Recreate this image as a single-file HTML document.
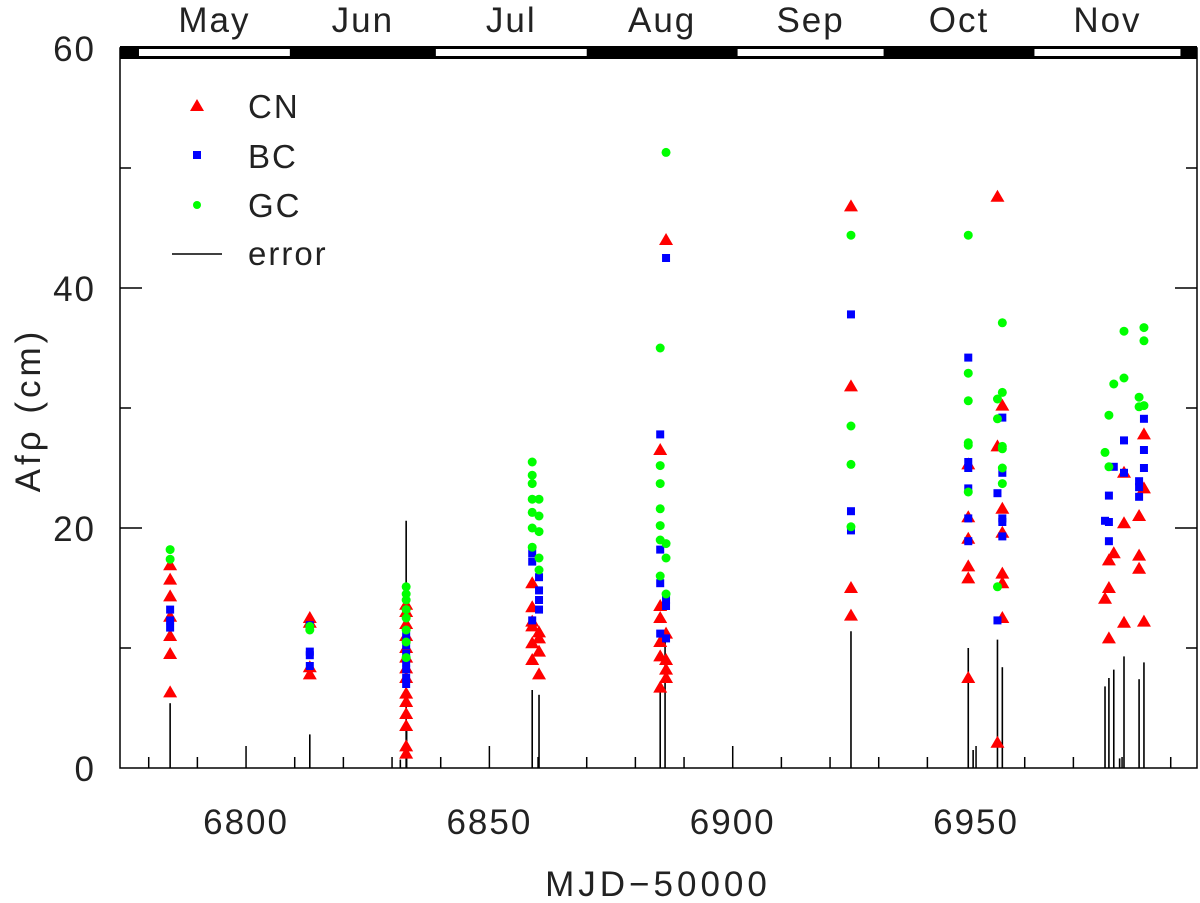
<!DOCTYPE html>
<html><head><meta charset="utf-8"><style>
html,body{margin:0;padding:0;background:#fff}
svg text{font-family:"Liberation Sans",sans-serif;font-weight:300;fill:#222}
</style></head><body>
<svg id="chart" width="1200" height="898" viewBox="0 0 1200 898" xmlns="http://www.w3.org/2000/svg">
<g id="monthbar"></g>
<g id="marks"></g>
<g id="axes"></g>
<g>
  <polygon points="197,99 204,111 190,111" fill="#f00"/>
  <text x="248" y="118" font-size="33" letter-spacing="2">CN</text>
  <rect x="193" y="151" width="8" height="8" fill="#00f"/>
  <text x="248" y="168" font-size="33" letter-spacing="2">BC</text>
  <circle cx="197" cy="205" r="4" fill="#0f0"/>
  <text x="248" y="217" font-size="33" letter-spacing="2">GC</text>
  <line x1="172" y1="254" x2="222" y2="254" stroke="#000" stroke-width="1.5"/>
  <text x="248" y="265" font-size="33" letter-spacing="2">error</text>
</g>
<text x="658" y="896" font-size="35" text-anchor="middle" letter-spacing="4">MJD−50000</text>
<text transform="translate(40,410) rotate(-90)" font-size="35" text-anchor="middle" letter-spacing="4">Afρ (cm)</text>
</svg>
<script>
const xMin = 6774.1, xMax = 6995.4, yMin = 0, yMax = 60;
const L = 120, R = 1197, T = 48, B = 768;
function X(v){return L + (v - xMin) / (xMax - xMin) * (R - L);}
function Y(v){return B - (v - yMin) / (yMax - yMin) * (B - T);}

const xTickLabels = [6800, 6850, 6900, 6950];
const yTickLabels = [0, 20, 40, 60];
const monthNames = ["May","Jun","Jul","Aug","Sep","Oct","Nov"];
const monthStarts = [6778, 6809, 6839, 6870, 6901, 6931, 6962, 6992];

// [mjd, value]
const cnData = [
[6784.4,6.3],[6784.4,9.5],[6784.4,11],[6784.4,12.6],[6784.4,14.3],[6784.4,15.7],[6784.4,16.9],
[6813.1,7.8],[6813.1,8.4],[6813.1,12.5],[6813.1,12.1],
[6832.9,1.2],[6832.9,1.8],[6832.9,3.5],[6832.9,4.5],[6832.9,5.5],[6832.9,6.2],[6832.9,7.5],[6832.9,8.3],[6832.9,9.2],[6832.9,10],[6832.9,11],[6832.9,12],[6832.9,13],[6832.9,13.6],
[6858.8,15.4],[6858.8,13.4],[6858.8,12.2],[6860.2,11.3],[6858.8,10.4],[6860.2,9.7],[6858.8,9],[6860.2,7.8],[6860.2,10.8],[6858.8,11.8],
[6886.3,44],[6885.1,26.5],[6885.1,13.5],[6885.1,12.5],[6886.3,11.2],[6885.1,10.5],[6885.1,9.3],[6886.3,9],[6886.3,8.2],[6886.3,7.5],[6885.1,6.7],
[6924.3,46.8],[6924.3,31.8],[6924.3,15],[6924.3,12.7],
[6948.4,25.3],[6948.4,20.9],[6948.4,19.1],[6948.4,16.8],[6948.4,15.8],[6948.4,7.5],
[6954.4,47.6],[6954.4,26.8],[6954.4,2.1],
[6955.4,30.2],[6955.4,21.6],[6955.4,19.6],[6955.4,16.2],[6955.4,15.4],[6955.4,12.5],
[6976.5,14.1],[6977.3,17.3],[6977.3,15.0],[6977.3,10.8],[6978.3,17.9],
[6980.4,24.6],[6980.4,20.4],[6980.4,12.1],
[6983.5,21.0],[6983.5,17.7],[6983.5,16.6],[6984.5,27.8],[6984.5,23.3],[6984.5,12.2]
];
const bcData = [
[6784.4,11.7],[6784.4,12.3],[6784.4,13.2],
[6813.1,8.5],[6813.1,9.4],[6813.1,9.7],[6813.1,11.9],
[6832.9,7.0],[6832.9,7.5],[6832.9,8.2],[6832.9,8.8],[6832.9,9.5],[6832.9,10.2],[6832.9,11],
[6858.8,17.9],[6858.8,17.2],[6860.2,15.9],[6860.2,14.8],[6860.2,14],[6860.2,13.2],[6858.8,12.3],
[6886.3,42.5],[6885.1,27.8],[6885.1,18.2],[6885.1,15.4],[6886.3,14],[6886.3,13.5],[6885.1,11.2],[6886.3,10.8],
[6924.3,37.8],[6924.3,21.4],[6924.3,19.8],
[6948.4,34.2],[6948.4,25.5],[6948.4,25.0],[6948.4,23.3],[6948.4,20.8],[6948.4,18.9],
[6954.4,22.9],[6954.4,12.3],
[6955.4,29.2],[6955.4,24.6],[6955.4,20.8],[6955.4,20.5],[6955.4,19.3],
[6976.5,20.6],[6977.3,22.7],[6977.3,20.5],[6977.3,18.9],[6978.3,25.1],
[6980.4,27.3],[6980.4,24.6],
[6983.5,23.9],[6983.5,23.4],[6983.5,22.6],[6984.5,29.1],[6984.5,26.5],[6984.5,25.0]
];
const gcData = [
[6784.4,17.4],[6784.4,18.2],
[6813.1,11.5],[6813.1,11.8],
[6832.9,9.2],[6832.9,10.5],[6832.9,11.5],[6832.9,12.5],[6832.9,13.2],[6832.9,14],[6832.9,14.5],[6832.9,15.1],
[6858.8,25.5],[6858.8,24.4],[6858.8,23.7],[6858.8,22.4],[6860.2,22.4],[6858.8,21.3],[6860.2,21],[6858.8,20],[6860.2,19.7],[6858.8,18.4],[6860.2,17.5],[6860.2,16.5],
[6886.3,51.3],[6885.1,35],[6885.1,25.2],[6885.1,23.7],[6885.1,21.6],[6885.1,20.2],[6885.1,19],[6886.3,18.7],[6886.3,17.5],[6885.1,16],[6886.3,14.5],
[6924.3,44.4],[6924.3,28.5],[6924.3,25.3],[6924.3,20.1],
[6948.4,44.4],[6948.4,32.9],[6948.4,30.6],[6948.4,27.1],[6948.4,26.9],[6948.4,23.0],
[6954.4,30.75],[6954.4,29.1],[6954.4,15.1],
[6955.4,37.1],[6955.4,31.3],[6955.4,26.8],[6955.4,26.6],[6955.4,25.0],[6955.4,23.7],
[6976.5,26.3],[6977.3,29.4],[6977.3,25.1],[6978.3,32.0],
[6980.4,36.4],[6980.4,32.5],
[6983.5,30.9],[6983.5,30.1],[6984.5,36.7],[6984.5,35.6],[6984.5,30.2]
];
const errData = [
[6784.4,5.4],[6813.1,2.8],[6831.7,0.7],[6832.9,20.6],[6833.0,3.4],
[6858.8,6.5],[6860.2,6.1],[6885.1,6.3],[6886.1,11.5],
[6924.3,11.4],[6948.4,10.0],[6949.4,1.5],[6954.4,10.7],[6955.4,8.4],
[6976.5,6.8],[6977.3,7.5],[6978.3,8.2],[6979.5,0.8],[6980.4,9.3],[6983.5,7.4],[6984.5,8.8]
];

const NS = "http://www.w3.org/2000/svg";
function mk(tag, attrs, parent){
  const e = document.createElementNS(NS, tag);
  for (const k in attrs) e.setAttribute(k, attrs[k]);
  parent.appendChild(e);
  return e;
}
const marks = document.getElementById('marks');
const axes = document.getElementById('axes');
const mb = document.getElementById('monthbar');

errData.forEach(d => {
  const l = mk('line', {x1:X(d[0]), x2:X(d[0]), y1:Y(0), y2:Y(d[1]), stroke:'#000', 'stroke-width':1.6}, marks);
  
  
});
cnData.forEach(d => {
  const x = X(d[0]), y = Y(d[1]);
  const p = mk('polygon', {points:`${x},${y-7} ${x+7},${y+5} ${x-7},${y+5}`, fill:'#f00'}, marks);
  
  
});
bcData.forEach(d => {
  const r = mk('rect', {x:X(d[0])-4, y:Y(d[1])-4, width:8, height:8, fill:'#00f'}, marks);
  
  
});
gcData.forEach(d => {
  const c = mk('circle', {cx:X(d[0]), cy:Y(d[1]), r:4.5, fill:'#0f0'}, marks);
  
  
});

const fr = mk('rect', {x:L, y:T, width:R-L, height:B-T, fill:'none', stroke:'#000', 'stroke-width':1.5}, axes);



for (let v = 6780; v <= 6990; v += 10) {
  const major = v % 50 === 0;
  const t = mk('line', {x1:X(v), x2:X(v), y1:B, y2:B-(major?22:11), stroke:'#000', 'stroke-width':1.5}, axes);
  
  
}
xTickLabels.forEach(v => {
  const t = mk('text', {x:X(v), y:834, 'font-size':35, 'text-anchor':'middle', 'letter-spacing':2}, axes);
  t.textContent = v;
  
  
});
for (let v = 10; v < 60; v += 10) {
  const len = v % 20 === 0 ? 22 : 11;
  [[L, L+len],[R, R-len]].forEach(p => {
    const t = mk('line', {x1:p[0], x2:p[1], y1:Y(v), y2:Y(v), stroke:'#000', 'stroke-width':1.5}, axes);
    
    
  });
}
yTickLabels.forEach(v => {
  const t = mk('text', {x:96, y:Y(v)+13, 'font-size':35, 'text-anchor':'end', 'letter-spacing':2}, axes);
  t.textContent = v;
  
  
});

const bg = mk('rect', {x:L, y:46, width:R-L, height:13, fill:'#000'}, mb);


monthNames.forEach((m, i) => {
  const x1 = X(monthStarts[i]), x2 = Math.min(X(monthStarts[i+1]), R);
  if (i % 2 === 0) {
    const w = mk('rect', {x:x1, y:49, width:x2-x1, height:7, fill:'#fff'}, mb);
    
    
  }
  const t = mk('text', {x:(x1+x2)/2, y:32, 'font-size':35, 'text-anchor':'middle', 'letter-spacing':2}, mb);
  t.textContent = m;
  
  
});
</script>
</body></html>
